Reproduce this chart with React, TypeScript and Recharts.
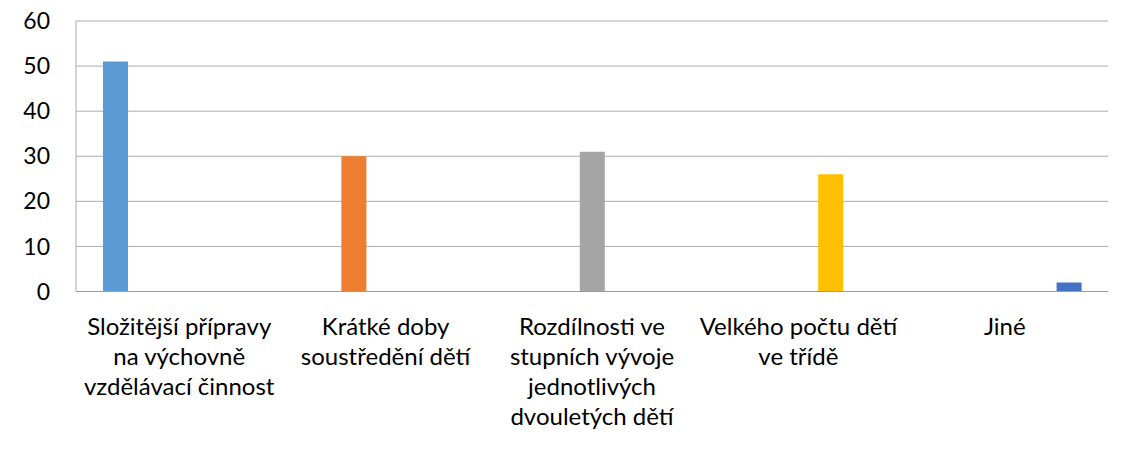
import React from "react";
import { BarChart, Bar, XAxis, YAxis, CartesianGrid } from "recharts";

const categories = [
  "Složitější přípravy na výchovně vzdělávací činnost",
  "Krátké doby soustředění dětí",
  "Rozdílnosti ve stupních vývoje jednotlivých dvouletých dětí",
  "Velkého počtu dětí ve třídě",
  "Jiné",
];
const tickLabelLines = [
  ["Složitější přípravy", "na výchovně", "vzdělávací činnost"],
  ["Krátké doby", "soustředění dětí"],
  ["Rozdílnosti ve", "stupních vývoje", "jednotlivých", "dvouletých dětí"],
  ["Velkého počtu dětí", "ve třídě"],
  ["Jiné"],
];
const values = [51, 30, 31, 26, 2];
const colors = ["#5B9BD5", "#ED7D31", "#A5A5A5", "#FFC000", "#4472C4"];
const yTicks = [0, 10, 20, 30, 40, 50, 60];

const seriesKeys = categories.map((_, i) => "s" + i);
const data = categories.map((name, i) => {
  const row: Record<string, any> = { name };
  seriesKeys.forEach((k, j) => {
    row[k] = j === i ? values[i] : null;
  });
  return row;
});

const FONT = "Lato, 'Open Sans', sans-serif";
const TEXT = "#000000";

const XTick = (props: any) => {
  const { x, y, payload } = props;
  const idx = categories.indexOf(payload.value);
  const lines = idx >= 0 ? tickLabelLines[idx] : [String(payload.value)];
  return (
    <g transform={`translate(${x},${y})`}>
      {lines.map((l, i) => (
        <text
          key={i}
          x={0}
          y={35.5 + i * 30}
          textAnchor="middle"
          fontFamily={FONT}
          fontSize={24}
          fill={TEXT}
        >
          {l}
        </text>
      ))}
    </g>
  );
};

export default function App() {
  return (
    <div style={{ position: "relative", width: 1126, height: 450, margin: -8, background: "#fff" }}>
      <div style={{ position: "absolute", left: 6, top: 0, width: 1, height: 450, background: "#A0A0A0" }} />
      <BarChart
        width={1126}
        height={450}
        data={data}
        margin={{ top: 21, right: 18, bottom: 0, left: 0 }}
        barGap={7}
      >
        <CartesianGrid vertical={false} stroke="#ABABAB" strokeWidth={1} />
        <XAxis
          dataKey="name"
          interval={0}
          tickLine={false}
          axisLine={{ stroke: "#9C9C9C", strokeWidth: 1 }}
          height={158.5}
          tick={<XTick />}
        />
        <YAxis
          domain={[0, 60]}
          ticks={yTicks}
          width={76}
          tickLine={false}
          tickMargin={20}
          axisLine={{ stroke: "#ABABAB", strokeWidth: 1 }}
          tick={{ fontFamily: FONT, fontSize: 23, fill: TEXT }}
        />
        {seriesKeys.map((k, j) => (
          <Bar key={k} dataKey={k} fill={colors[j]} barSize={25} isAnimationActive={false} />
        ))}
      </BarChart>
    </div>
  );
}
